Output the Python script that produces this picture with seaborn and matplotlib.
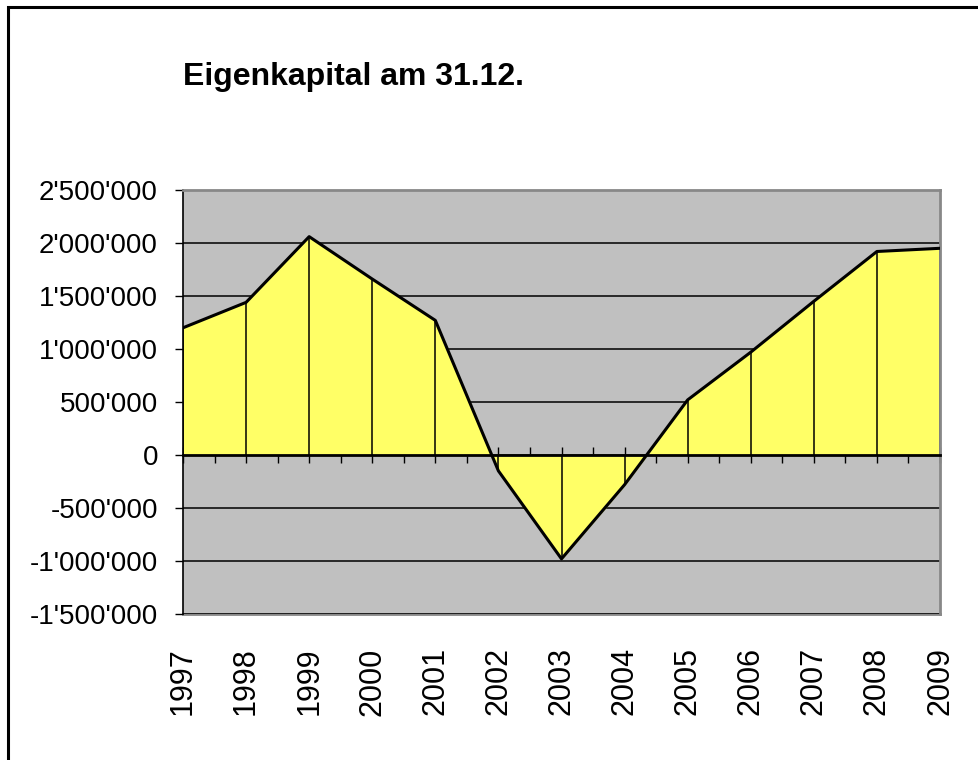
import matplotlib
matplotlib.use("Agg")
import matplotlib.pyplot as plt
from matplotlib.patches import Rectangle
from matplotlib.ticker import FuncFormatter, MultipleLocator
import seaborn as sns
import pandas as pd

# Daten
jahre = [1997, 1998, 1999, 2000, 2001, 2002, 2003, 2004, 2005, 2006, 2007, 2008, 2009]
eigenkapital = [1200000, 1440000, 2060000, 1660000, 1270000, -150000, -980000,
                -280000, 520000, 970000, 1450000, 1920000, 1950000]
y_ticks = [-1500000, -1000000, -500000, 0, 500000, 1000000, 1500000, 2000000, 2500000]
titel = "Eigenkapital am 31.12."

df = pd.DataFrame({"pos": range(len(jahre)), "jahr": jahre, "wert": eigenkapital})

sns.set_style("white")
plt.rcParams["font.family"] = ["Liberation Sans", "DejaVu Sans"]
plt.rcParams["text.color"] = "black"
plt.rcParams["xtick.color"] = "black"
plt.rcParams["ytick.color"] = "black"
plt.rcParams["xtick.labelcolor"] = "black"
plt.rcParams["ytick.labelcolor"] = "black"

fig = plt.figure(figsize=(9.79, 7.6), dpi=100)
ax = fig.add_axes([183 / 979, 1 - 614 / 760, (940 - 183) / 979, (614 - 190) / 760])
ax.set_facecolor("#C0C0C0")

# Flaeche + Linie
ax.fill_between(df["pos"], df["wert"], 0, color="#FFFF66", zorder=1)
sns.lineplot(data=df, x="pos", y="wert", color="black", linewidth=2.2, ax=ax, zorder=3)
ax.vlines(df["pos"], 0, df["wert"], color="black", linewidth=1.1, zorder=2)

ax.set_xlim(0, len(jahre) - 1)
ax.set_ylim(y_ticks[0], y_ticks[-1])
ax.set_yticks(y_ticks)
ax.yaxis.set_major_formatter(FuncFormatter(lambda v, p: f"{int(v):,}".replace(",", "'")))
ax.grid(axis="y", color="black", linewidth=1.1)
ax.set_axisbelow(True)
ax.set_xlabel("")
ax.set_ylabel("")

# x-Achse bei 0, Teilstriche kreuzend
ax.spines["bottom"].set_position(("data", 0))
ax.spines["bottom"].set_linewidth(2)
ax.spines["bottom"].set_color("black")
ax.xaxis.set_major_locator(MultipleLocator(1))
ax.xaxis.set_minor_locator(MultipleLocator(0.5))
ax.tick_params(axis="x", which="both", direction="inout", length=11, width=1,
               color="black", labelbottom=False, bottom=True)

ax.spines["left"].set_color("black")
ax.spines["left"].set_linewidth(1.2)
ax.tick_params(axis="y", direction="out", length=6, width=1, color="black",
               labelsize=20, labelcolor="black", pad=12, left=True)
for s in ["top", "right"]:
    ax.spines[s].set_color("#888888")
    ax.spines[s].set_linewidth(2)

# Jahreszahlen unten
sec = ax.secondary_xaxis("bottom")
sec.set_xticks(df["pos"])
sec.set_xticklabels([str(j) for j in jahre], rotation=90, fontsize=22, color="black")
sec.tick_params(axis="x", length=0, pad=24)
sec.spines["bottom"].set_color("#888888")
sec.spines["bottom"].set_linewidth(2)

fig.text(183 / 979, 1 - 85 / 760, titel, fontsize=23, fontweight="bold",
         color="black", ha="left", va="baseline")

# Rahmen um das Diagramm
fig.patches.append(Rectangle((8 / 979, -0.1), 1.2, 1.1 - 7 / 760,
                             transform=fig.transFigure, fill=False,
                             edgecolor="black", linewidth=2.2))

fig.savefig("out.png", dpi=100)
